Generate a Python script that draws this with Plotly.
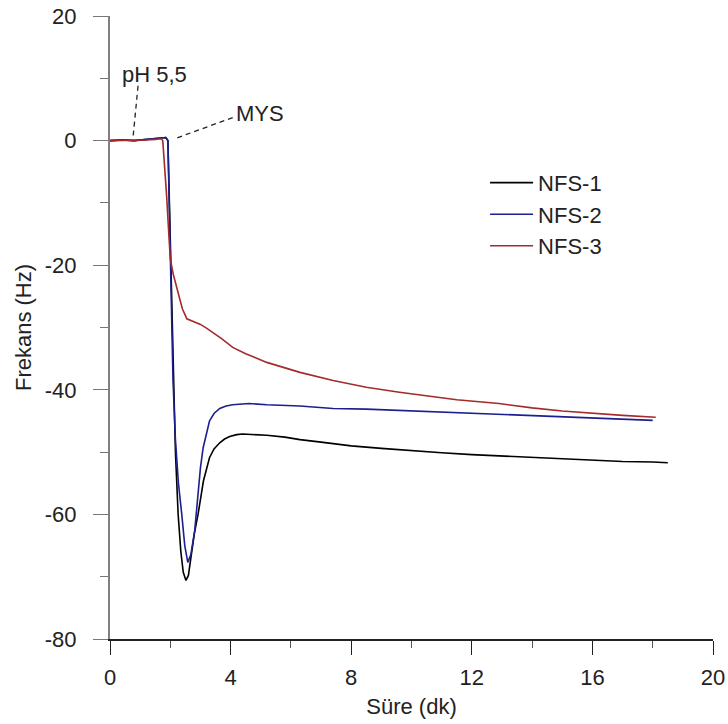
import plotly.graph_objects as go

# ---- data ----
nfs1_x = [0, 0.4, 0.8, 1.2, 1.5, 1.7, 1.85, 1.92, 1.97, 2.03, 2.09, 2.17, 2.26, 2.35, 2.43, 2.52, 2.6, 2.7, 2.8, 2.92, 3.1, 3.3, 3.45,
          3.64, 3.8, 3.97, 4.2, 4.4, 4.8, 5.2, 5.8, 6.3, 7, 8, 9, 10, 11, 12, 12.9, 14, 15, 16, 17, 18, 18.5]
nfs1_y = [0, 0.1, 0, 0.2, 0.4, 0.5, 0.5, 0, -10, -25, -38.5, -50, -60, -66, -69.3, -70.6, -69.8, -66.5, -63, -60, -54.6, -50.9, -49.5,
          -48.5, -47.9, -47.5, -47.2, -47.1, -47.2, -47.3, -47.6, -48, -48.4, -49, -49.4, -49.8, -50.1, -50.4, -50.6, -50.9, -51.1, -51.3, -51.5, -51.6, -51.7]

nfs2_x = [0, 0.4, 0.8, 1.2, 1.5, 1.7, 1.85, 1.92, 1.97, 2.03, 2.09, 2.17, 2.27, 2.38, 2.48, 2.58, 2.68, 2.81, 2.92, 3.0, 3.09, 3.2, 3.3,
          3.45, 3.64, 3.85, 4.07, 4.6, 5.2, 6.3, 7.4, 8.5, 9.6, 11, 12.9, 14, 15, 16, 17, 18]
nfs2_y = [0, 0.1, 0, 0.2, 0.4, 0.5, 0.5, 0, -10, -25, -38.5, -48, -55, -60, -65, -67.7, -66.5, -62.6, -56, -52.5, -49.3, -46.8, -45,
          -43.8, -43, -42.6, -42.4, -42.2, -42.4, -42.6, -43, -43.1, -43.3, -43.6, -43.9, -44.1, -44.3, -44.5, -44.7, -44.9]

nfs3_x = [0, 0.4, 0.8, 1.2, 1.5, 1.7, 1.75, 1.8, 1.88, 1.95, 2.0, 2.1, 2.2, 2.3, 2.4, 2.55, 2.7, 2.88, 3.0, 3.2, 3.42, 3.7, 4.07,
          4.5, 5.2, 6.3, 7.4, 8.5, 9.6, 10.5, 11.5, 12.9, 14, 15, 16, 17, 18.1]
nfs3_y = [0, 0, 0.1, 0.1, 0.2, 0.3, 0, -3, -9, -15, -19, -21.5, -23.5, -25.5, -27, -28.6, -28.9, -29.2, -29.5, -30.1, -30.8, -31.8, -33.2,
          -34.2, -35.6, -37.2, -38.5, -39.6, -40.4, -41, -41.6, -42.2, -42.9, -43.4, -43.8, -44.1, -44.4]

series_names = ["NFS-1", "NFS-2", "NFS-3"]
series_colors = ["#000000", "#1c1f8f", "#a52a2a"]

x_ticks = [0, 4, 8, 12, 16, 20]
y_ticks = [20, 0, -20, -40, -60, -80]

# annotation texts, anchor (text) points and the dashed leader lines
note_texts = ["pH 5,5", "MYS"]
note_x = [1.49, 4.98]
note_y = [10.6, 4.3]
lead_x0 = [0.93, 4.07]
lead_y0 = [8.8, 3.7]
lead_x1 = [0.76, 2.15]
lead_y1 = [0.3, 0.3]

FONT = "Liberation Sans, Arial, sans-serif"
FS = 22
TXT = "#222222"

fig = go.Figure()
for xs, ys, name, col in zip([nfs1_x, nfs2_x, nfs3_x], [nfs1_y, nfs2_y, nfs3_y], series_names, series_colors):
    fig.add_trace(go.Scatter(x=xs, y=ys, mode="lines", name=name,
                             line=dict(color=col, width=1.6)))

for x0, y0, x1, y1 in zip(lead_x0, lead_y0, lead_x1, lead_y1):
    fig.add_shape(type="line", x0=x0, y0=y0, x1=x1, y1=y1, xref="x", yref="y",
                  line=dict(color="#222222", width=1.3, dash="5px,4px"))

for t, x, y in zip(note_texts, note_x, note_y):
    fig.add_annotation(x=x, y=y, text=t, showarrow=False, xref="x", yref="y",
                       font=dict(family=FONT, size=FS, color=TXT))

fig.update_layout(
    width=728, height=724,
    margin=dict(l=110, r=15, t=16, b=85),
    paper_bgcolor="white", plot_bgcolor="white",
    font=dict(family=FONT, size=FS, color=TXT),
    showlegend=True,
    legend=dict(x=0.622, y=0.766, xanchor="left", yanchor="top",
                bgcolor="rgba(0,0,0,0)", font=dict(family=FONT, size=FS, color=TXT),
                tracegroupgap=0, itemwidth=43),
)

fig.update_xaxes(
    range=[0, 20], tickvals=x_ticks, ticktext=[str(v) for v in x_ticks],
    ticks="outside", ticklen=14, tickwidth=1.3, tickcolor="#222222",
    showline=True, linecolor="#222222", linewidth=1.5,
    showgrid=False, zeroline=False, automargin=False,
    minor=dict(dtick=2, ticks="outside", ticklen=7, tickwidth=1.3, tickcolor="#555555", showgrid=False),
    title=dict(text="Süre (dk)", font=dict(family=FONT, size=FS, color=TXT), standoff=9),
    tickfont=dict(family=FONT, size=FS, color=TXT),
    ticklabelstandoff=4,
)
fig.update_yaxes(
    range=[-80, 20], tickvals=y_ticks, ticktext=[str(v) for v in y_ticks],
    ticks="outside", ticklen=15, tickwidth=1.3, tickcolor="#777777",
    showline=True, linecolor="#808080", linewidth=2,
    showgrid=False, zeroline=False, automargin=False,
    minor=dict(dtick=10, ticks="outside", ticklen=8, tickwidth=1.3, tickcolor="#777777", showgrid=False),
    title=dict(text="Frekans (Hz)", font=dict(family=FONT, size=FS, color=TXT), standoff=7),
    tickfont=dict(family=FONT, size=FS, color=TXT),
    ticklabelstandoff=12,
)

fig.write_html("out.html")
